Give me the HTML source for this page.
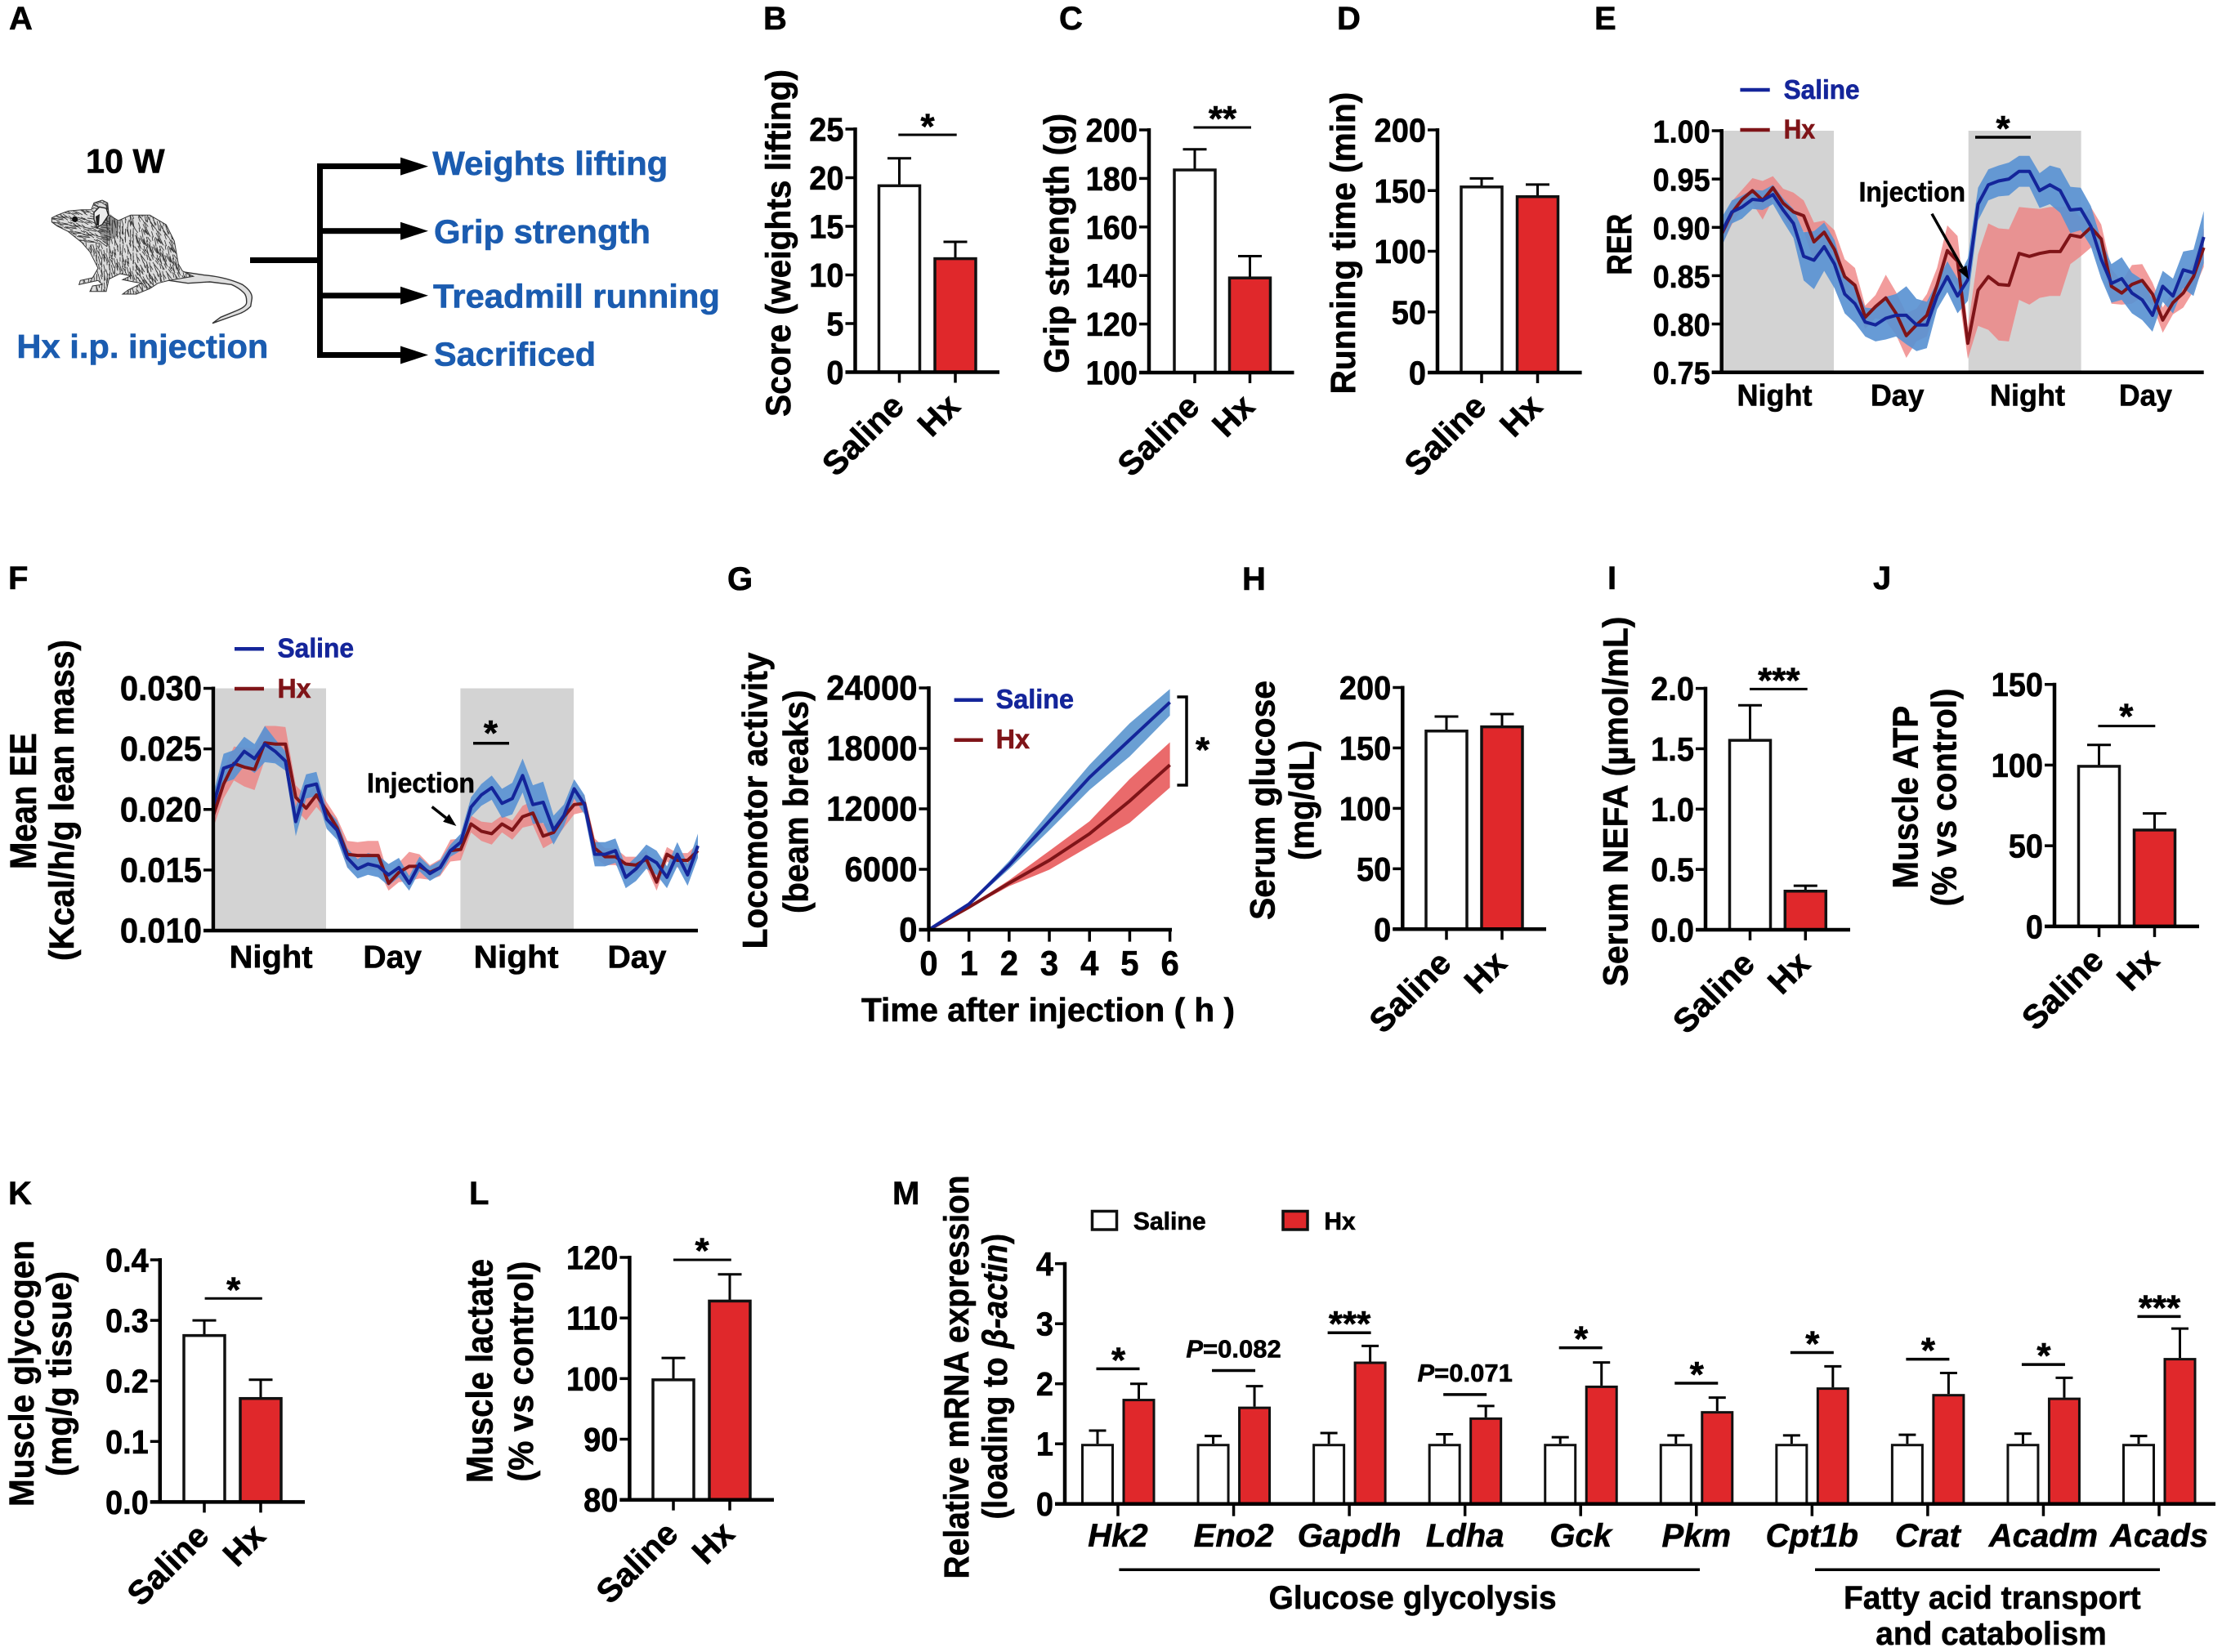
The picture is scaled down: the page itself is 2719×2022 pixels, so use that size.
<!DOCTYPE html>
<html lang="en">
<head>
<meta charset="utf-8">
<title>Hx injection phenotype figure</title>
<style>
html,body{margin:0;padding:0;background:#fff;}
svg{display:block;}
text{font-family:"Liberation Sans",sans-serif;font-weight:bold;fill:#000;stroke:#000;stroke-width:.6px;}
text.blue{fill:#1b5cb0;stroke:#1b5cb0;}
</style>
</head>
<body>
<svg id="figure" xmlns="http://www.w3.org/2000/svg" width="2719" height="2022" viewBox="0 0 2719 2022">
<rect x="0" y="0" width="2719" height="2022" fill="#fff"/>
<defs>
<clipPath id="ratClip">
<polygon points="63.3,266.7 70,263.3 83.3,258.3 100,256.7 111.7,256.7 115,248.3 125,245 131.7,248.3 133.3,263.3 145,270 160,263.3 183.3,263.3 203.3,275 213.3,295 218.3,323.3 223.3,331.7 236.7,338.3 206.7,343.3 193.3,346.7 183.3,353.3 166.7,360 150,360 156.7,355 173.3,346.7 163.3,345 150,342.3 160,337.7 146.7,335 133.3,341.7 130,356.7 110,356.7 113.3,350 125,348.3 120,343.3 96.7,348.3 98.3,343.3 113.3,340 120,328.3 110,308.3 100,296.7 83.3,283.3 70,276.7 63.3,271.7"/>
</clipPath>
</defs>
<g>
<g id="ratGroup">
<path d="M216.7,331.7 L250,336.7 Q276,339 296.7,348.3 Q309,357 308.3,365 L306.7,375 Q300,382 290,385 L260,395.7 L270,388.3 L290,380 Q302,375 301.7,370 Q302,362 298.3,358.3 Q292,352 283.3,348.3 L256.7,345 L230,346.7 L206.7,343.3 Z" fill="#dedede" stroke="#333" stroke-width="1.4"/>
<polygon points="63.3,266.7 70,263.3 83.3,258.3 100,256.7 111.7,256.7 115,248.3 125,245 131.7,248.3 133.3,263.3 145,270 160,263.3 183.3,263.3 203.3,275 213.3,295 218.3,323.3 223.3,331.7 236.7,338.3 206.7,343.3 193.3,346.7 183.3,353.3 166.7,360 150,360 156.7,355 173.3,346.7 163.3,345 150,342.3 160,337.7 146.7,335 133.3,341.7 130,356.7 110,356.7 113.3,350 125,348.3 120,343.3 96.7,348.3 98.3,343.3 113.3,340 120,328.3 110,308.3 100,296.7 83.3,283.3 70,276.7 63.3,271.7" fill="#dcdcdc" stroke="#333" stroke-width="1"/>
</g>
<text x="105" y="211.5" font-size="42" textLength="96.5" lengthAdjust="spacingAndGlyphs">10 W</text>
<text class="blue" x="20.4" y="438" font-size="41" textLength="308" lengthAdjust="spacingAndGlyphs">Hx i.p. injection</text>
<rect x="306" y="315" width="85" height="7"/>
<rect x="388" y="200" width="7" height="238"/>
<rect x="388" y="200" width="104" height="7"/>
<polygon points="490,192.6 524,203.6 490,214.6"/>
<rect x="388" y="279.2" width="104" height="7"/>
<polygon points="490,271.7 524,282.7 490,293.7"/>
<rect x="388" y="358.3" width="104" height="7"/>
<polygon points="490,350.8 524,361.8 490,372.8"/>
<rect x="388" y="431" width="104" height="7"/>
<polygon points="490,423.5 524,434.5 490,445.5"/>
<text class="blue" x="529.3" y="214" font-size="41" textLength="288" lengthAdjust="spacingAndGlyphs">Weights lifting</text>
<text class="blue" x="531" y="297.4" font-size="41" textLength="265" lengthAdjust="spacingAndGlyphs">Grip strength</text>
<text class="blue" x="530" y="376.4" font-size="41" textLength="351" lengthAdjust="spacingAndGlyphs">Treadmill running</text>
<text class="blue" x="531" y="447.6" font-size="41" textLength="198" lengthAdjust="spacingAndGlyphs">Sacrificed</text>
</g>
</svg>
<script>
/* ---------- bar chart data ---------- */
const groupNames = ['Saline', 'Hx'];
const scoreTicks = [0, 5, 10, 15, 20, 25];
const scoreValues = [19.3, 11.8];
const scoreErrors = [2.7, 1.6];
const gripTicks = [100, 120, 140, 160, 180, 200];
const gripValues = [184, 139.5];
const gripErrors = [8, 8.5];
const runTicks = [0, 50, 100, 150, 200];
const runValues = [154, 146];
const runErrors = [6, 9];
const glucoseTicks = [0, 50, 100, 150, 200];
const glucoseValues = [165, 168.5];
const glucoseErrors = [11, 9.5];
const nefaTicks = ['0.0', '0.5', '1.0', '1.5', '2.0'];
const nefaValues = [1.58, 0.33];
const nefaErrors = [0.28, 0.035];
const atpTicks = [0, 50, 100, 150];
const atpValues = [100, 60.5];
const atpErrors = [12.5, 9.5];
const glycogenTicks = ['0.0', '0.1', '0.2', '0.3', '0.4'];
const glycogenValues = [0.277, 0.173];
const glycogenErrors = [0.023, 0.029];
const lactateTicks = [80, 90, 100, 110, 120];
const lactateValues = [100, 113];
const lactateErrors = [3.4, 4.2];

/* ---------- RER (panel E) data ---------- */
const rerTicks = ['0.75', '0.80', '0.85', '0.90', '0.95', '1.00'];
const rerSaline = [.895,.916,.921,.929,.928,.934,.918,.904,.870,.866,.880,.862,.831,.821,.802,.799,.806,.809,.809,.799,.799,.829,.849,.829,.846,.924,.944,.948,.950,.958,.958,.938,.944,.938,.918,.919,.901,.867,.842,.847,.832,.825,.809,.839,.829,.856,.853,.890];
const rerSalineSem = [.015,.012,.012,.010,.010,.010,.012,.015,.025,.030,.025,.025,.020,.020,.015,.017,.022,.022,.030,.027,.024,.014,.016,.018,.022,.017,.016,.016,.017,.016,.016,.018,.020,.023,.024,.022,.021,.020,.020,.022,.021,.021,.017,.016,.018,.019,.024,.027];
const rerHx = [.893,.915,.929,.938,.928,.941,.925,.916,.912,.885,.895,.877,.849,.840,.807,.818,.827,.811,.788,.799,.809,.840,.876,.865,.780,.835,.849,.841,.840,.873,.870,.873,.875,.875,.892,.890,.900,.888,.839,.832,.841,.845,.831,.804,.822,.832,.849,.879];
const rerHxSem = [.012,.012,.010,.013,.020,.012,.015,.020,.016,.020,.012,.020,.018,.018,.012,.012,.024,.022,.023,.017,.022,.018,.026,.026,.016,.037,.055,.058,.058,.048,.050,.046,.046,.046,.030,.020,.021,.015,.018,.012,.020,.017,.012,.013,.012,.015,.015,.020];
const rerPeriods = ['Night', 'Day', 'Night', 'Day'];

/* ---------- Mean EE (panel F) data ---------- */
const eeTicks = ['0.010', '0.015', '0.020', '0.025', '0.030'];
const eeSaline = [.0203,.0234,.0237,.0248,.0242,.0254,.0248,.0240,.0190,.0219,.0221,.0192,.0183,.0160,.0151,.0155,.0153,.0146,.0152,.0139,.0155,.0147,.0152,.0166,.0173,.0202,.0212,.0218,.0205,.0209,.0228,.0204,.0206,.0183,.0195,.0217,.0204,.0163,.0163,.0166,.0144,.0151,.0161,.0156,.0144,.0163,.0146,.0170];
const eeSalineSem = [.0010,.0012,.0012,.0012,.0012,.0015,.0010,.0008,.0012,.0010,.0010,.0008,.0008,.0008,.0008,.0009,.0009,.0009,.0008,.0006,.0006,.0006,.0006,.0005,.0007,.0008,.0009,.0010,.0012,.0013,.0014,.0016,.0017,.0012,.0009,.0008,.0008,.0010,.0010,.0010,.0009,.0010,.0010,.0010,.0009,.0010,.0009,.0010];
const eeHx = [.0195,.0221,.0238,.0235,.0233,.0255,.0254,.0254,.0210,.0201,.0212,.0199,.0185,.0163,.0162,.0162,.0162,.0139,.0148,.0153,.0153,.0148,.0152,.0166,.0167,.0188,.0182,.0180,.0188,.0183,.0194,.0197,.0178,.0181,.0194,.0204,.0205,.0168,.0161,.0161,.0155,.0154,.0159,.0140,.0163,.0158,.0158,.0166];
const eeHxSem = [.0010,.0012,.0014,.0016,.0017,.0014,.0015,.0014,.0010,.0010,.0010,.0007,.0008,.0011,.0011,.0012,.0012,.0006,.0008,.0012,.0010,.0006,.0007,.0009,.0009,.0007,.0008,.0009,.0007,.0008,.0009,.0010,.0010,.0008,.0009,.0008,.0007,.0008,.0007,.0007,.0006,.0007,.0007,.0007,.0006,.0006,.0006,.0006];
const eePeriods = ['Night', 'Day', 'Night', 'Day'];

/* ---------- Locomotor (panel G) data ---------- */
const hours = [0, 1, 2, 3, 4, 5, 6];
const locoTicks = [0, 6000, 12000, 18000, 24000];
const locoSaline = [0, 2546, 6427, 10770, 15120, 18850, 22570];
const locoSalineSem = [0, 100, 400, 900, 1250, 1650, 1320];
const locoHx = [0, 2235, 4626, 6892, 9530, 12790, 16360];
const locoHxSem = [0, 100, 300, 930, 1240, 2170, 2250];

/* ---------- mRNA (panel M) data ---------- */
const genes = ['Hk2', 'Eno2', 'Gapdh', 'Ldha', 'Gck', 'Pkm', 'Cpt1b', 'Crat', 'Acadm', 'Acads'];
const mrnaTicks = [0, 1, 2, 3, 4];
const mrnaSaline = [1, 1, 1, 1, 1, 1, 1, 1, 1, 1];
const mrnaSalineErr = [.22, .13, .18, .16, .11, .14, .14, .15, .17, .13];
const mrnaHx = [1.75, 1.62, 2.37, 1.44, 1.97, 1.545, 1.94, 1.83, 1.77, 2.43];
const mrnaHxErr = [.25, .34, .26, .19, .385, .225, .35, .35, .33, .49];
const mrnaSigLevel = [2.25, 2.22, 2.85, 1.82, 2.6, 2.01, 2.52, 2.41, 2.32, 3.12];
const mrnaSigText = ['*', 'P=0.082', '***', 'P=0.071', '*', '*', '*', '*', '*', '***'];

/* ---------- drawing helpers ---------- */
const NS = 'http://www.w3.org/2000/svg';
const root = document.getElementById('figure');
function node(tag, attrs, name, parent) {
  const el = document.createElementNS(NS, tag);
  for (const k in attrs) el.setAttribute(k, attrs[k]);
  
  
  (parent || root).appendChild(el);
  return el;
}
function linear(d0, d1, r0, r1) {
  return function (v) { return r0 + (v - d0) / (d1 - d0) * (r1 - r0); };
}
function text(g, str, x, y, size, name, opt) {
  opt = opt || {};
  const a = { x: x, y: y, 'font-size': size };
  if (opt.anchor) a['text-anchor'] = opt.anchor;
  if (opt.len) { a.textLength = opt.len; a.lengthAdjust = 'spacingAndGlyphs'; }
  if (opt.rotate !== undefined) a.transform = 'rotate(' + opt.rotate + ' ' + x + ' ' + y + ')';
  if (opt.italic) a['font-style'] = 'italic';
  if (opt.color) a.style = 'fill:' + opt.color + ';stroke:' + opt.color;
  const el = node('text', a, name, g);
  el.textContent = str;
  return el;
}
/* numeric labels: narrow horizontally relative to their height */
function numEm(str) {
  let w = 0;
  for (const ch of str) w += ch === '.' ? 0.278 : 0.556;
  return w;
}
function tallNumber(g, str, x, y, size, name, anchor) {
  return text(g, str, x, y, size * 1.07, name, { anchor: anchor, len: numEm(str) * size });
}
function seg(g, x1, y1, x2, y2, w, name, color) {
  return node('line', { x1: x1, y1: y1, x2: x2, y2: y2, stroke: color || '#000', 'stroke-width': w }, name, g);
}
function yTitle(g, str, baseX, bottomY, topY, size, name) {
  return text(g, str, baseX, bottomY, size, name, { rotate: -90, len: bottomY - topY });
}
function letter(str, x, y) {
  const el = text(root, str, x, y, 40, 'panel-letter-' + str.toLowerCase());
  return el;
}
function yAxis(g, o) {
  const tickL = o.x - 12;
  seg(g, o.x, o.top - 2, o.x, o.base + 2, 4.5, 'y-axis-line');
  o.ticks.forEach(function (t) {
    const py = o.y(parseFloat(t));
    seg(g, tickL, py, o.x, py, 3.5, 'y-axis-tick');
    tallNumber(g, String(t), tickL - 2, py + 14.5, o.size || 38, 'y-tick-label', 'end');
  });
}
function star(g, str, cx, cy) {
  return text(g, str, cx, cy + 24, 44, 'significance-stars', { anchor: 'middle' });
}
function arrow(g, x1, y1, x2, y2, w, hl, hw) {
  const dx = x2 - x1, dy = y2 - y1, l = Math.hypot(dx, dy), ux = dx / l, uy = dy / l;
  const bx = x2 - ux * hl, by = y2 - uy * hl;
  seg(g, x1, y1, bx, by, w, 'injection-arrow-shaft');
  node('polygon', { points: x2 + ',' + y2 + ' ' + (bx - uy * hw) + ',' + (by + ux * hw) + ' ' + (bx + uy * hw) + ',' + (by - ux * hw), fill: '#000' }, 'injection-arrow-head', g);
}
function barPanel(o) {
  const g = node('g', {}, o.name);
  const y = linear(o.domain[0], o.domain[1], o.base, o.top);
  o.titles.forEach(function (t) { yTitle(g, t[0], t[1], t[2], t[3], t[4] || 43, 'y-axis-title'); });
  o.values.forEach(function (v, i) {
    const c = o.c0 + i * o.gap;
    const top = y(v + o.errors[i]);
    seg(g, c, y(v), c, top, 3, 'error-bar-stem-' + groupNames[i].toLowerCase());
    seg(g, c - 14.5, top, c + 14.5, top, 3, 'error-bar-cap-' + groupNames[i].toLowerCase());
    node('rect', { x: c - 25, y: y(v) + 1.5, width: 50, height: o.base - y(v) - 1.5, fill: i ? '#e0282b' : '#fff', stroke: '#111', 'stroke-width': 3.5 }, 'bar-' + groupNames[i].toLowerCase(), g);
    seg(g, c, o.base, c, o.base + 13, 3.5, 'x-axis-tick');
    text(g, groupNames[i], c + 8, o.base + 44, 41, 'x-tick-label-' + groupNames[i].toLowerCase(), { anchor: 'end', rotate: -45 });
  });
  seg(g, o.x - 12, o.base, o.xr, o.base, 4.5, 'x-axis-line');
  yAxis(g, { x: o.x, top: o.top, base: o.base, ticks: o.ticks, y: y });
  if (o.sig) {
    seg(g, o.sig[0], o.sig[2], o.sig[1], o.sig[2], 3, 'significance-line');
    star(g, o.sig[3], o.sig[4], o.sig[5]);
  }
}
function bandPath(xs, vals, sems, xf, yf) {
  let d = '';
  vals.forEach(function (v, i) { d += (i ? 'L' : 'M') + xf(xs[i]).toFixed(1) + ',' + yf(v + sems[i]).toFixed(1); });
  for (let i = vals.length - 1; i >= 0; i--) d += 'L' + xf(xs[i]).toFixed(1) + ',' + yf(vals[i] - sems[i]).toFixed(1);
  return d + 'Z';
}
function linePath(xs, vals, xf, yf) {
  return vals.map(function (v, i) { return (i ? 'L' : 'M') + xf(xs[i]).toFixed(1) + ',' + yf(v).toFixed(1); }).join('');
}
function legendLine(g, x1, x2, y, tx, ty, tlen, str, color, size) {
  seg(g, x1, y, x2, y, 4.5, 'legend-line-' + str.toLowerCase(), color);
  text(g, str, tx, ty, size, 'legend-label-' + str.toLowerCase(), { color: color, len: tlen });
}
const BLUE = '#14259a', DRED = '#7f1418';
function circadianPanel(o) {
  const g = node('g', {}, o.name);
  const xs = o.sal.map(function (v, i) { return i; });
  const x = linear(0, xs.length - 1, o.x0, o.x1);
  const y = linear(o.domain[0], o.domain[1], o.base, o.top);
  o.titles.forEach(function (t) { yTitle(g, t[0], t[1], t[2], t[3], t[4] || 43, 'y-axis-title'); });
  o.night.forEach(function (n) {
    node('rect', { x: n[0], y: o.top, width: n[1] - n[0], height: o.base - o.top, fill: '#d3d3d3' }, 'night-shading', g);
  });
  node('path', { d: bandPath(xs, o.hx, o.hxSem, x, y), fill: '#ee8080', opacity: .78 }, 'band-hx', g);
  node('path', { d: bandPath(xs, o.sal, o.salSem, x, y), fill: '#5a93d2', opacity: .92 }, 'band-saline', g);
  node('path', { d: linePath(xs, o.hx, x, y), fill: 'none', stroke: DRED, 'stroke-width': 4, 'stroke-linejoin': 'round' }, 'line-hx', g);
  node('path', { d: linePath(xs, o.sal, x, y), fill: 'none', stroke: BLUE, 'stroke-width': 4, 'stroke-linejoin': 'round' }, 'line-saline', g);
  seg(g, o.x0 - 12, o.base, o.x1, o.base, 4.5, 'x-axis-line');
  yAxis(g, { x: o.x0, top: o.top, base: o.base, ticks: o.ticks, y: y, size: o.size });
  o.periods.forEach(function (p, i) {
    text(g, p, o.periodX[i], o.periodY, o.periodSize, 'x-period-label-' + p.toLowerCase(), { len: o.periodLen[i] });
  });
  const lg = node('g', {}, 'legend', g);
  legendLine(lg, o.lg[0], o.lg[1], o.lg[2], o.lg[3], o.lg[4], o.lg[5], 'Saline', BLUE, 33);
  legendLine(lg, o.lg[0], o.lg[1], o.lg[6], o.lg[3], o.lg[7], o.lg[8], 'Hx', DRED, 33);
  seg(g, o.sig[0], o.sig[2], o.sig[1], o.sig[2], 3.5, 'significance-line');
  star(g, '*', o.sig[3], o.sig[4]);
  text(g, 'Injection', o.inj[0], o.inj[1], 34, 'injection-label', { len: o.inj[2] });
  arrow(g, o.arrow[0], o.arrow[1], o.arrow[2], o.arrow[3], 3.5, 16, 6);
}

/* ---------- rat fur (illustration only) ---------- */
(function () {
  const rat = document.getElementById('ratGroup');
  let seed = 17;
  function next() { seed = (seed * 137 + 59) % 1009; return seed / 1009; }
  let d = '';
  for (let px = 60; px < 232; px += 3.2) {
    for (let py = 244; py < 362; py += 3.6) {
      const j = next(), k = next(), m = next();
      if (j < 0.4) continue;
      const head = px < 128 && py < 295;
      const rump = px > 165;
      const base = head ? 0.35 : (rump ? 1.15 : 1.45);
      const ang = base + (k - 0.5) * 0.6;
      const len = 5 + m * 7;
      const sx = px + (k - 0.5) * 3, sy = py + (m - 0.5) * 3;
      d += 'M' + sx.toFixed(1) + ',' + sy.toFixed(1) + 'l' + (Math.cos(ang) * len).toFixed(1) + ',' + (Math.sin(ang) * len).toFixed(1);
    }
  }
  node('path', { d: d, fill: 'none', stroke: '#3a3a3a', 'stroke-width': 0.9, 'clip-path': 'url(#ratClip)' }, 'rat-fur', rat);
  node('path', { d: 'M120,282 L135,262 L146,272 L142,290 L128,298 Z', fill: '#333', opacity: .45 }, 'rat-neck-shadow', rat);
  node('polygon', { points: '115,260 121.7,253.3 130,255 132.7,263.3 125,275 118.3,278.3 115,268.3', fill: '#ededed', stroke: '#222', 'stroke-width': 1.4 }, 'rat-ear', rat);
  node('path', { d: 'M117,265 L122,262 L121,276 L118,276 Z', fill: '#222' }, 'rat-ear-inner', rat);
  node('circle', { cx: 91.7, cy: 268.3, r: 3.6, fill: '#111' }, 'rat-eye', rat);
})();

/* ---------- panel letters ---------- */
[['A', 11, 36], ['B', 934, 36], ['C', 1296, 36], ['D', 1636, 36], ['E', 1951, 36], ['F', 10, 721], ['G', 890, 722], ['H', 1520, 722], ['I', 1967, 721], ['J', 2292, 721], ['K', 10, 1474], ['L', 574, 1474], ['M', 1092, 1474]].forEach(function (p) { letter(p[0], p[1], p[2]); });

/* ---------- bar panels ---------- */
barPanel({ name: 'panel-b', x: 1046.5, top: 158, base: 455.5, xr: 1223, domain: [0, 25], ticks: scoreTicks, values: scoreValues, errors: scoreErrors, c0: 1100.5, gap: 68.5,
  titles: [['Score (weights lifting)', 967, 510, 85]], sig: [1099.3, 1170.7, 165, '*', 1135, 145.5] });
barPanel({ name: 'panel-c', x: 1406, top: 159, base: 456, xr: 1583.5, domain: [100, 200], ticks: gripTicks, values: gripValues, errors: gripErrors, c0: 1462, gap: 67.5,
  titles: [['Grip strength (g)', 1307.5, 456.7, 139]], sig: [1460.5, 1531, 156, '**', 1496, 136] });
barPanel({ name: 'panel-d', x: 1759, top: 159, base: 456, xr: 1935.6, domain: [0, 200], ticks: runTicks, values: runValues, errors: runErrors, c0: 1813, gap: 68.5,
  titles: [['Running time (min)', 1658, 482.4, 112.7]] });
barPanel({ name: 'panel-h', x: 1716.3, top: 841.5, base: 1137.3, xr: 1892, domain: [0, 200], ticks: glucoseTicks, values: glucoseValues, errors: glucoseErrors, c0: 1770, gap: 68,
  titles: [['Serum glucose', 1559.6, 1126, 833], ['(mg/dL)', 1607.7, 1053, 905.8]] });
barPanel({ name: 'panel-i', x: 2087, top: 842.6, base: 1138, xr: 2264, domain: [0, 2], ticks: nefaTicks, values: nefaValues, errors: nefaErrors, c0: 2141.5, gap: 67.8,
  titles: [['Serum NEFA (\u00b5mol/mL)', 1991.6, 1207.4, 754.6]], sig: [2141, 2211.7, 843.4, '***', 2176.8, 823.5] });
barPanel({ name: 'panel-j', x: 2514, top: 837.7, base: 1133.9, xr: 2691, domain: [0, 150], ticks: atpTicks, values: atpValues, errors: atpErrors, c0: 2568.5, gap: 68,
  titles: [['Muscle ATP', 2346.5, 1087.6, 863.7, 44], ['(% vs control)', 2393.5, 1109.4, 842.6]], sig: [2567.4, 2637.3, 888.6, '*', 2601.8, 867.5] });
barPanel({ name: 'panel-k', x: 195.8, top: 1542, base: 1838.4, xr: 373, domain: [0, 0.4], ticks: glycogenTicks, values: glycogenValues, errors: glycogenErrors, c0: 250, gap: 69,
  titles: [['Muscle glycogen', 41, 1844, 1518], ['(mg/g tissue)', 87, 1807, 1556]], sig: [250.6, 320.8, 1589.3, '*', 285.7, 1569.7] });
barPanel({ name: 'panel-l', x: 770.4, top: 1539, base: 1835.7, xr: 947, domain: [80, 120], ticks: lactateTicks, values: lactateValues, errors: lactateErrors, c0: 824, gap: 69,
  titles: [['Muscle lactate', 602.7, 1815, 1541, 45], ['(% vs control)', 652, 1813.5, 1543.6]], sig: [824, 894.8, 1542, '*', 859, 1521.7] });

/* ---------- circadian panels ---------- */
circadianPanel({ name: 'panel-e', x0: 2106.7, x1: 2696.7, top: 160, base: 455.7, domain: [0.75, 1], ticks: rerTicks, size: 36,
  sal: rerSaline, salSem: rerSalineSem, hx: rerHx, hxSem: rerHxSem,
  night: [[2108, 2244], [2408.7, 2546.6]], titles: [['RER', 1996, 336.7, 261.7, 43]],
  periods: rerPeriods, periodX: [2125.5, 2289, 2435, 2593], periodLen: [92, 65.5, 92, 65], periodY: 496.7, periodSize: 37,
  lg: [2129.4, 2165.7, 110, 2182.6, 121, 93, 159, 169.3, 38.5],
  sig: [2417, 2485, 168, 2451, 148], inj: [2274.6, 246.7, 130.4], arrow: [2364, 261.7, 2409, 341.7] });
circadianPanel({ name: 'panel-f', x0: 261, x1: 854, top: 842.5, base: 1139, domain: [0.01, 0.03], ticks: eeTicks, size: 40,
  sal: eeSaline, salSem: eeSalineSem, hx: eeHx, hxSem: eeHxSem,
  night: [[263.7, 399], [563.4, 702]], titles: [['Mean EE', 44, 1064, 897, 45], ['(Kcal/h/g lean mass)', 90, 1176, 783]],
  periods: eePeriods, periodX: [280.6, 444.4, 579.7, 743.5], periodLen: [102, 71.6, 103.8, 71.9], periodY: 1184.5, periodSize: 39,
  lg: [287, 323, 794.3, 339.5, 804.7, 93.5, 843, 854, 41],
  sig: [579, 623, 909.7, 600.4, 888], inj: [449, 970, 132], arrow: [528.6, 987.5, 558.4, 1011] });

/* ---------- panel G ---------- */
(function () {
  const g = node('g', {}, 'panel-g');
  const x = linear(0, 6, 1136.5, 1431.6);
  const y = linear(0, 24000, 1138, 842);
  yTitle(g, 'Locomotor activity', 938.7, 1161.4, 798.6, 43, 'y-axis-title');
  yTitle(g, '(beam breaks)', 988.6, 1118, 844.6, 43, 'y-axis-title');
  node('path', { d: bandPath(hours, locoHx, locoHxSem, x, y), fill: '#ea6a6b' }, 'band-hx', g);
  node('path', { d: bandPath(hours, locoSaline, locoSalineSem, x, y), fill: '#6a9fd3' }, 'band-saline', g);
  node('path', { d: linePath(hours, locoHx, x, y), fill: 'none', stroke: DRED, 'stroke-width': 4 }, 'line-hx', g);
  node('path', { d: linePath(hours, locoSaline, x, y), fill: 'none', stroke: BLUE, 'stroke-width': 4 }, 'line-saline', g);
  seg(g, 1136.5 - 12, 1138, 1434, 1138, 4.5, 'x-axis-line');
  yAxis(g, { x: 1136.5, top: 842, base: 1138, ticks: locoTicks, y: y, size: 40 });
  hours.forEach(function (h) {
    seg(g, x(h), 1138, x(h), 1152.6, 3.5, 'x-axis-tick');
    tallNumber(g, String(h), x(h), 1193.5, 40, 'x-tick-label', 'middle');
  });
  text(g, 'Time after injection ( h )', 1054, 1250, 41, 'x-axis-title', { len: 457 });
  const lg = node('g', {}, 'legend', g);
  legendLine(lg, 1167.6, 1202.8, 856.8, 1218.6, 866.8, 95.4, 'Saline', BLUE, 33);
  legendLine(lg, 1167.6, 1202.8, 905.8, 1218.6, 916, 41.4, 'Hx', DRED, 33);
  node('path', { d: 'M1440.4,853 H1452 V961 H1440.4', fill: 'none', stroke: '#000', 'stroke-width': 3.5 }, 'significance-bracket', g);
  star(g, '*', 1471.5, 908.5);
})();

/* ---------- panel M ---------- */
(function () {
  const g = node('g', {}, 'panel-m');
  const y = linear(0, 4, 1840.7, 1546.7);
  const gx = linear(0, 9, 1368, 2642);
  yTitle(g, 'Relative mRNA expression', 1185, 1932.5, 1438.4, 43, 'y-axis-title');
  const t2 = yTitle(g, '', 1232, 1859.5, 1510, 43, 'y-axis-title');
  const a = document.createElementNS(NS, 'tspan');
  a.textContent = '(loading to ';
  
  
  t2.appendChild(a);
  const b = document.createElementNS(NS, 'tspan');
  b.textContent = '\u03b2-actin';
  b.setAttribute('font-style', 'italic');
  
  
  t2.appendChild(b);
  const c = document.createElementNS(NS, 'tspan');
  c.textContent = ')';
  
  
  t2.appendChild(c);
  genes.forEach(function (gene, i) {
    const cx = gx(i), lo = cx - 25, hi = cx + 25.5;
    const sTop = y(mrnaSaline[i] + mrnaSalineErr[i]), hTop = y(mrnaHx[i] + mrnaHxErr[i]);
    seg(g, lo, y(mrnaSaline[i]), lo, sTop, 3, 'error-bar-stem-saline');
    seg(g, lo - 10.5, sTop, lo + 10.5, sTop, 3, 'error-bar-cap-saline');
    seg(g, hi, y(mrnaHx[i]), hi, hTop, 3, 'error-bar-stem-hx');
    seg(g, hi - 10.5, hTop, hi + 10.5, hTop, 3, 'error-bar-cap-hx');
    node('rect', { x: lo - 18.5, y: y(mrnaSaline[i]) + 1.5, width: 37, height: 1840.7 - y(mrnaSaline[i]) - 1.5, fill: '#fff', stroke: '#111', 'stroke-width': 3 }, 'bar-saline-' + gene.toLowerCase(), g);
    node('rect', { x: hi - 18.5, y: y(mrnaHx[i]) + 1.5, width: 37, height: 1840.7 - y(mrnaHx[i]) - 1.5, fill: '#e0282b', stroke: '#111', 'stroke-width': 3 }, 'bar-hx-' + gene.toLowerCase(), g);
    seg(g, cx, 1840.7, cx, 1855.7, 3.5, 'x-axis-tick');
    text(g, gene, cx, 1893, 40, 'gene-label-' + gene.toLowerCase(), { anchor: 'middle', italic: true });
    const sy = y(mrnaSigLevel[i]);
    seg(g, cx - 26.5, sy, cx + 26.5, sy, 3.5, 'significance-line');
    if (mrnaSigText[i].charAt(0) === 'P') {
      const t = text(g, '', cx, sy - 16, 31, 'p-value-label', { anchor: 'middle' });
      const p = document.createElementNS(NS, 'tspan');
      p.textContent = 'P';
      p.setAttribute('font-style', 'italic');
      
      
      t.appendChild(p);
      const v = document.createElementNS(NS, 'tspan');
      v.textContent = mrnaSigText[i].slice(1);
      
      
      t.appendChild(v);
    } else {
      star(g, mrnaSigText[i], cx + 0.5, sy - 20);
    }
  });
  seg(g, 1291, 1840.7, 2711, 1840.7, 4.5, 'x-axis-line');
  yAxis(g, { x: 1303, top: 1546.7, base: 1840.7, ticks: mrnaTicks, y: y, size: 38 });
  seg(g, 1369.4, 1921.3, 2080, 1921.3, 3.5, 'glycolysis-bracket-line');
  seg(g, 2221, 1921.3, 2643, 1921.3, 3.5, 'fatty-acid-bracket-line');
  text(g, 'Glucose glycolysis', 1552.6, 1969, 40, 'glycolysis-group-label', { len: 352 });
  text(g, 'Fatty acid transport', 2256, 1969, 40, 'fatty-acid-group-label-line1', { len: 363.6 });
  text(g, 'and catabolism', 2295.3, 2013, 40, 'fatty-acid-group-label-line2', { len: 282.5 });
  const lg = node('g', {}, 'legend', g);
  node('rect', { x: 1336.5, y: 1482.5, width: 30, height: 22.5, fill: '#fff', stroke: '#111', 'stroke-width': 3.5 }, 'legend-swatch-saline', lg);
  text(lg, 'Saline', 1386.7, 1505, 31, 'legend-label-saline', { len: 89 });
  node('rect', { x: 1570, y: 1482.5, width: 30, height: 22.5, fill: '#e0282b', stroke: '#111', 'stroke-width': 3.5 }, 'legend-swatch-hx', lg);
  text(lg, 'Hx', 1620.4, 1505, 31, 'legend-label-hx', { len: 38.3 });
})();
</script>
</body>
</html>
